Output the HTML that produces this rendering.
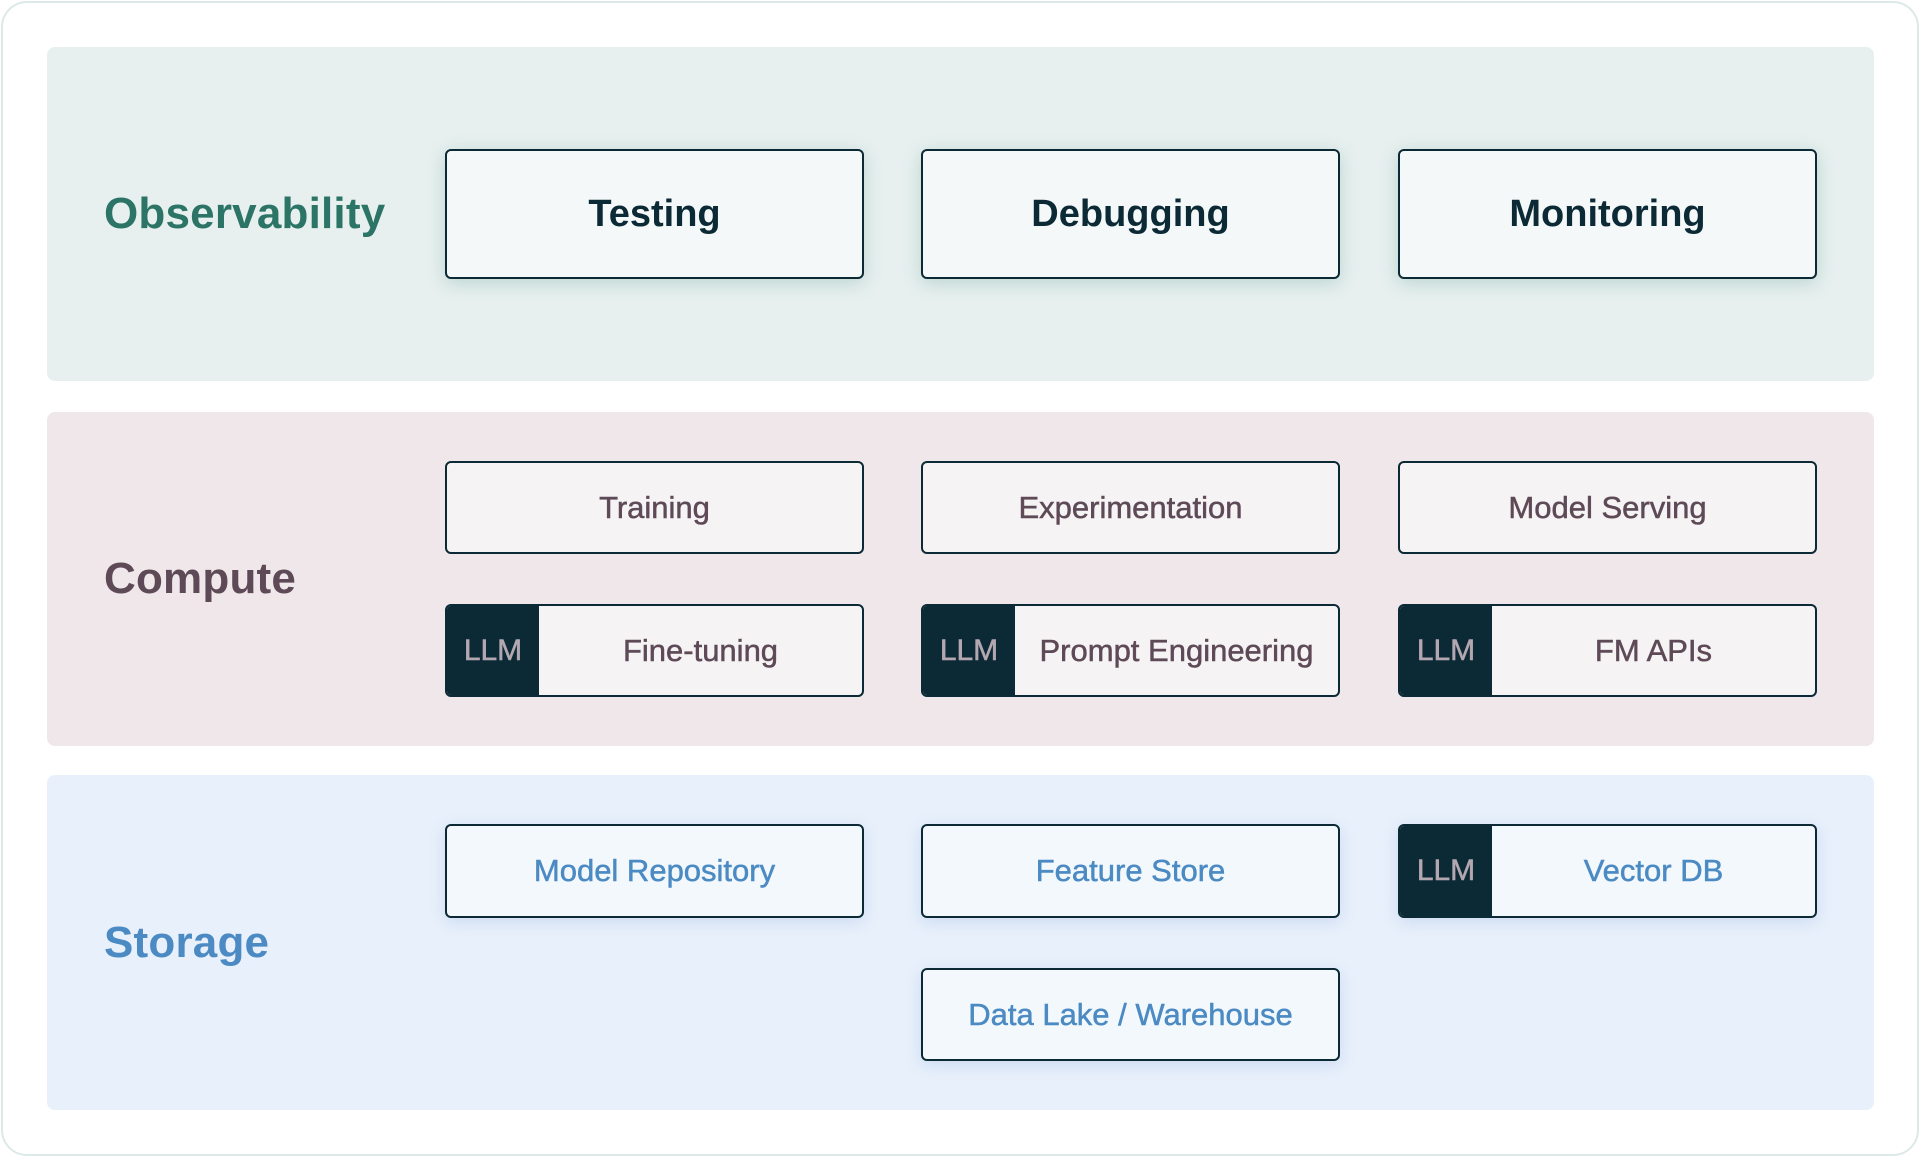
<!DOCTYPE html>
<html><head><meta charset="utf-8"><style>
*{box-sizing:border-box;margin:0;padding:0}
body{width:1921px;height:1158px;background:#fff;font-family:"Liberation Sans",sans-serif;position:relative;overflow:hidden}
.card{position:absolute;left:1px;top:1px;width:1918px;height:1155px;border:2px solid #dde9e8;border-radius:26px;background:#fff}
.panel{position:absolute;left:47px;width:1827px;border-radius:8px}
.lbl{position:absolute;left:104px;font-size:44px;transform:translateY(-50%);letter-spacing:0.2px}
.box{position:absolute;width:419px;border:2px solid #0b2a35;border-radius:6px;display:flex;align-items:center;justify-content:center;overflow:hidden;-webkit-text-stroke:0.5px currentColor}
.llm{width:92px;height:100%;background:#0b2a35;color:#b3a7b0;font-size:30px;display:flex;align-items:center;justify-content:center;flex:none}
.t{flex:1;text-align:center}
</style></head><body>
<div class="card"></div>
<div class="panel" style="top:47px;height:334px;background:#e7f0ef"></div>
<div class="panel" style="top:412px;height:334px;background:#efe7ea"></div>
<div class="panel" style="top:775px;height:335px;background:#e8f0fb"></div>

<div class="lbl" style="top:214px;color:#2c7566;font-weight:bold">Observability</div>
<div class="lbl" style="top:579px;color:#5e4a57;font-weight:bold">Compute</div>
<div class="lbl" style="top:943px;color:#4b8ac2;font-weight:bold">Storage</div>

<div class="box" style="left:445px;top:149px;height:130px;background:#f4f8f8;box-shadow:0 4px 18px rgba(60,130,120,.25);color:#0b2a35;font-size:38px;font-weight:bold;-webkit-text-stroke:0">Testing</div>
<div class="box" style="left:921px;top:149px;height:130px;background:#f4f8f8;box-shadow:0 4px 18px rgba(60,130,120,.25);color:#0b2a35;font-size:38px;font-weight:bold;-webkit-text-stroke:0">Debugging</div>
<div class="box" style="left:1398px;top:149px;height:130px;background:#f4f8f8;box-shadow:0 4px 18px rgba(60,130,120,.25);color:#0b2a35;font-size:38px;font-weight:bold;-webkit-text-stroke:0">Monitoring</div>

<div class="box" style="left:445px;top:461px;height:93px;background:#f6f3f4;color:#5e4a57;font-size:31px">Training</div>
<div class="box" style="left:921px;top:461px;height:93px;background:#f6f3f4;color:#5e4a57;font-size:31px">Experimentation</div>
<div class="box" style="left:1398px;top:461px;height:93px;background:#f6f3f4;color:#5e4a57;font-size:31px">Model Serving</div>
<div class="box" style="left:445px;top:604px;height:93px;background:#f6f3f4;color:#5e4a57;font-size:31px"><div class="llm">LLM</div><div class="t">Fine-tuning</div></div>
<div class="box" style="left:921px;top:604px;height:93px;background:#f6f3f4;color:#5e4a57;font-size:31px"><div class="llm">LLM</div><div class="t">Prompt Engineering</div></div>
<div class="box" style="left:1398px;top:604px;height:93px;background:#f6f3f4;color:#5e4a57;font-size:31px"><div class="llm">LLM</div><div class="t">FM APIs</div></div>

<div class="box" style="left:445px;top:824px;height:94px;background:#f3f8fd;color:#4b8ac2;font-size:31px;box-shadow:0 4px 16px rgba(80,130,200,.18)">Model Repository</div>
<div class="box" style="left:921px;top:824px;height:94px;background:#f3f8fd;color:#4b8ac2;font-size:31px;box-shadow:0 4px 16px rgba(80,130,200,.18)">Feature Store</div>
<div class="box" style="left:1398px;top:824px;height:94px;background:#f3f8fd;color:#4b8ac2;font-size:31px;box-shadow:0 4px 16px rgba(80,130,200,.18)"><div class="llm">LLM</div><div class="t">Vector DB</div></div>
<div class="box" style="left:921px;top:968px;height:93px;background:#f3f8fd;color:#4b8ac2;font-size:31px;box-shadow:0 4px 16px rgba(80,130,200,.18)">Data Lake / Warehouse</div>
</body></html>
